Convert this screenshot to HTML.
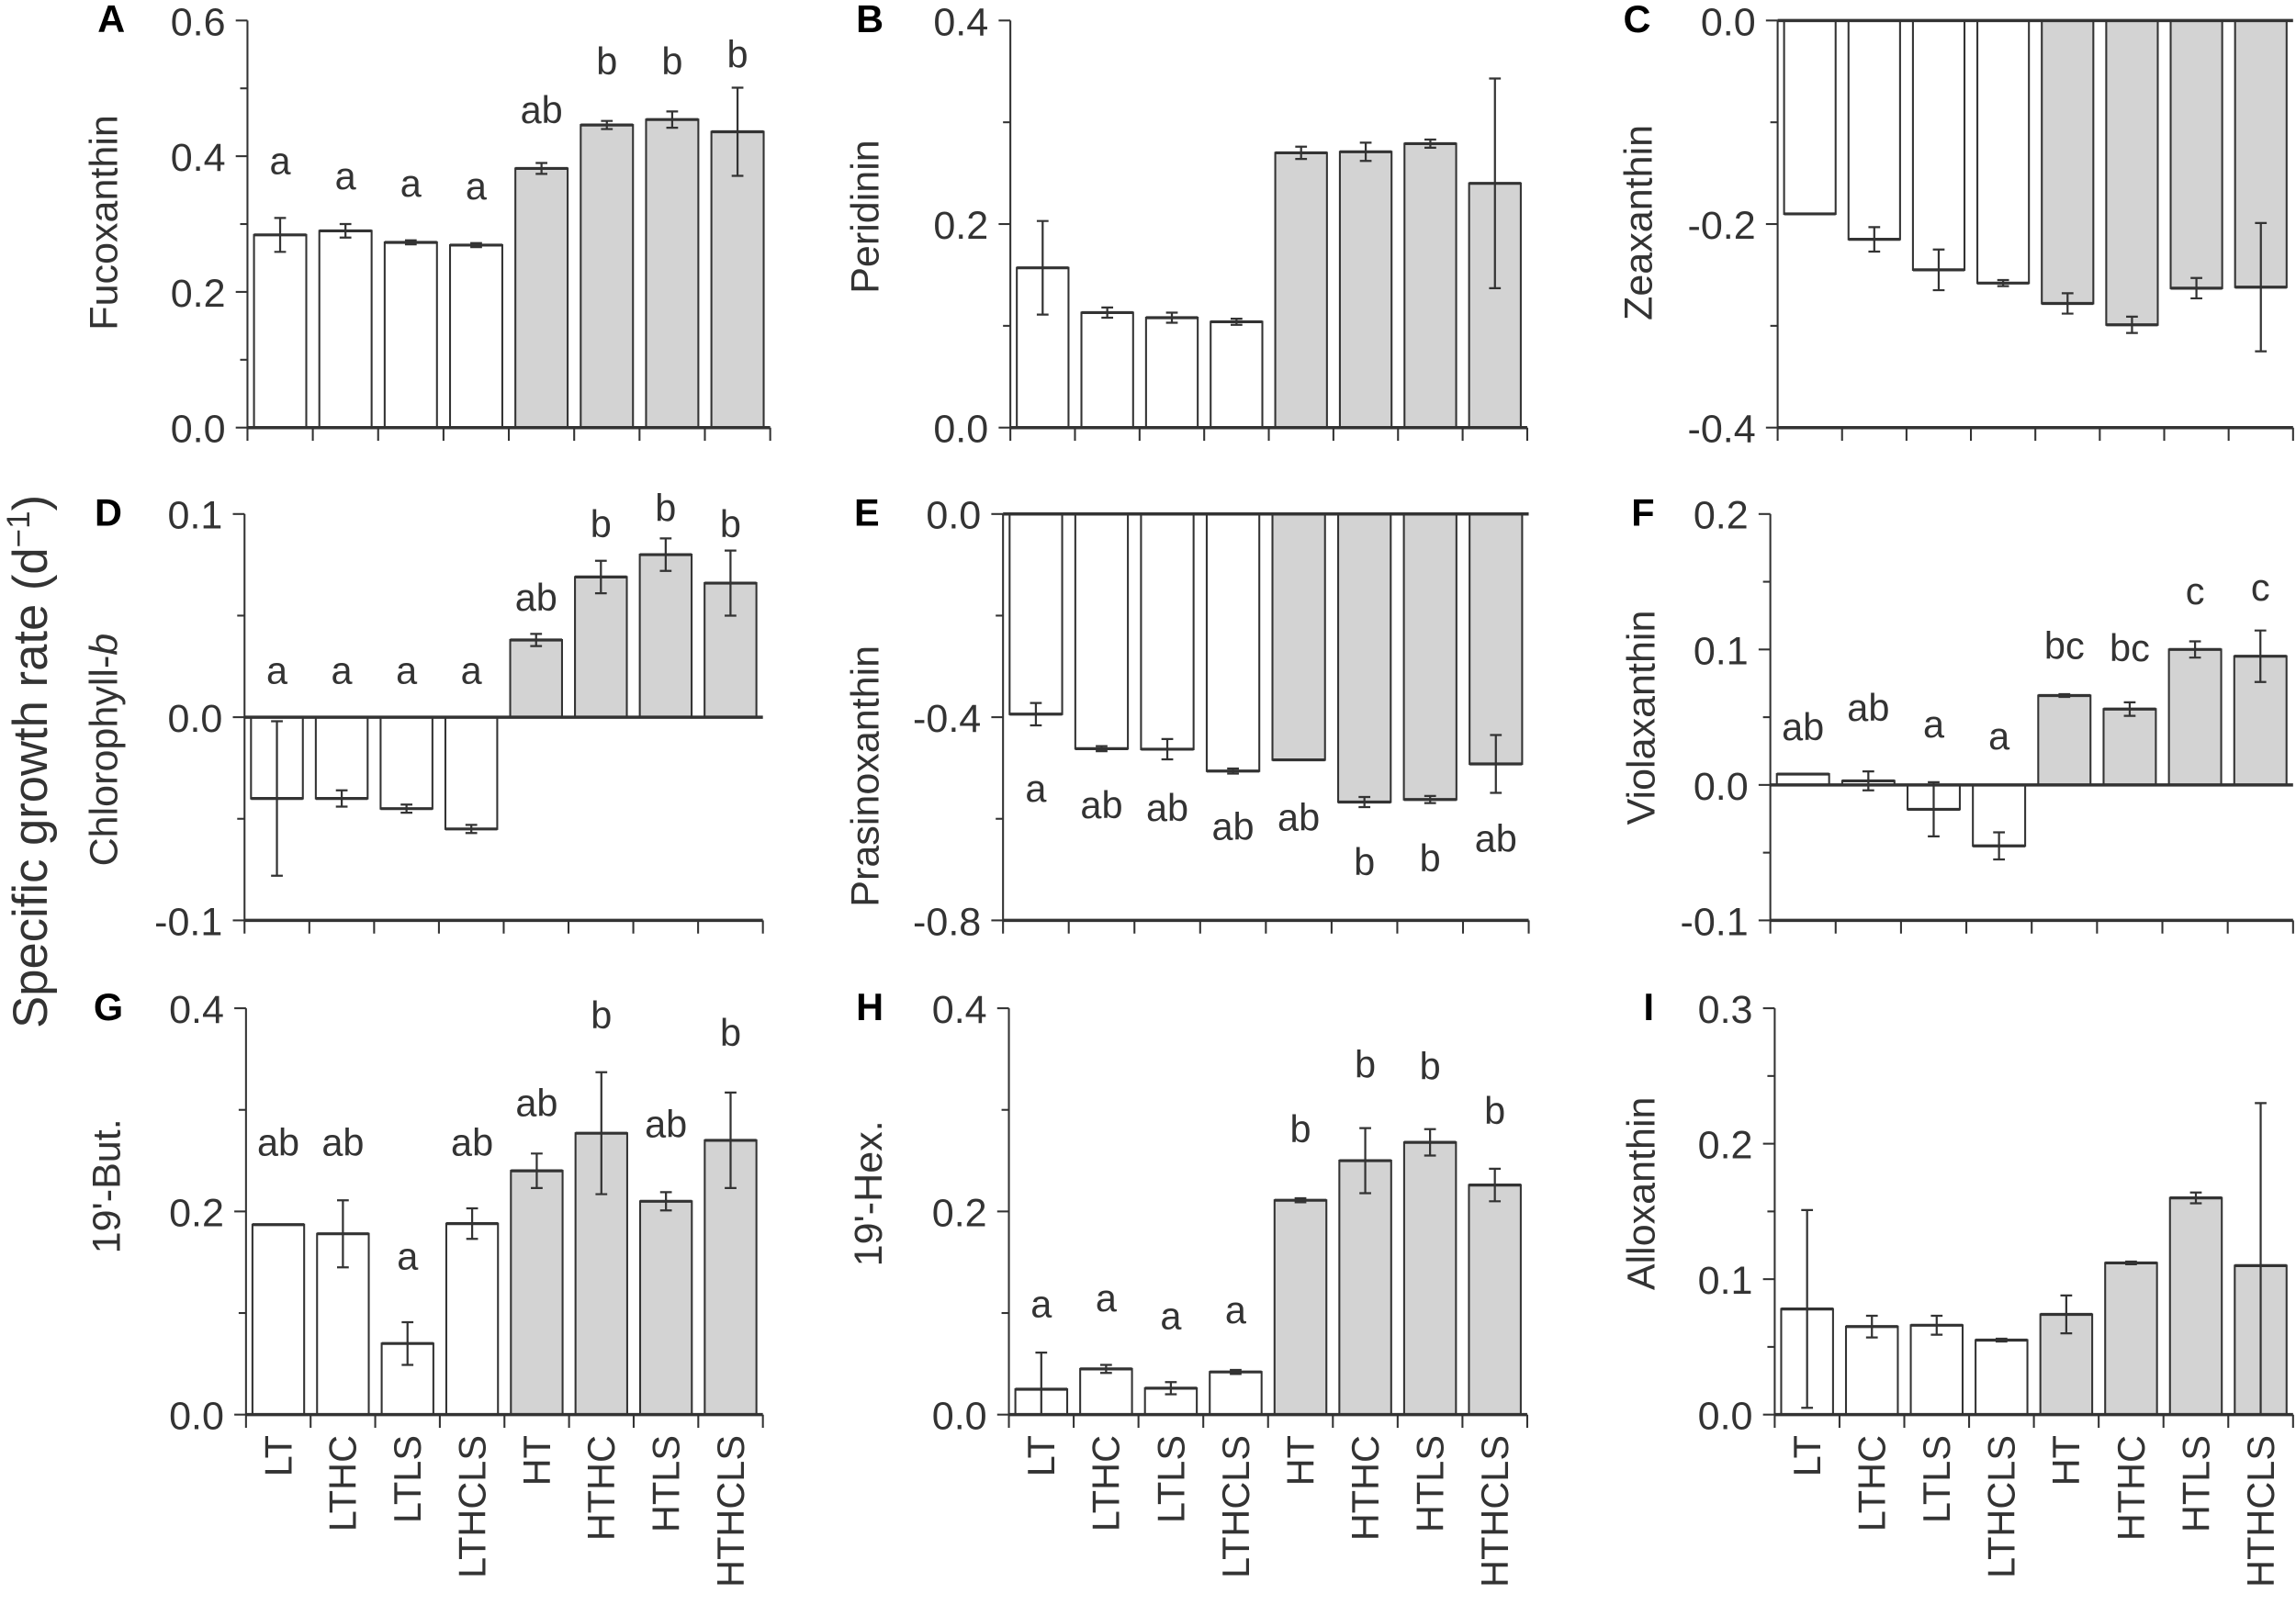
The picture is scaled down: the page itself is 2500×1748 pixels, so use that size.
<!DOCTYPE html>
<html><head><meta charset="utf-8"><style>
html,body{margin:0;padding:0;background:#fff;}
svg{display:block;}
text{font-family:"Liberation Sans",Arial,sans-serif;fill:#333;}
</style></head><body>
<svg id="chart" width="2500" height="1748" viewBox="0 0 1568 1096" preserveAspectRatio="none" xmlns="http://www.w3.org/2000/svg">
<rect x="0" y="0" width="1568" height="1096" fill="#fff"/>
<text transform="translate(32,520) rotate(-90)" text-anchor="middle" font-size="33">Specific growth rate (d<tspan font-size="22" dy="-12">−1</tspan><tspan dy="12">)</tspan></text>
</svg>
<script>
const categories = ["LT","LTHC","LTLS","LTHCLS","HT","HTHC","HTLS","HTHCLS"];
const shaded = [0,0,0,0,1,1,1,1];

const valsA = [0.284,0.290,0.273,0.269,0.382,0.446,0.454,0.436];
const errA  = [0.025,0.010,0.003,0.003,0.008,0.006,0.012,0.065];
const letA  = ["a","a","a","a","ab","b","b","b"];
const letYA = [0.393,0.371,0.360,0.356,0.468,0.540,0.540,0.550];

const valsB = [0.157,0.113,0.108,0.104,0.270,0.271,0.279,0.240];
const errB  = [0.046,0.005,0.005,0.003,0.006,0.009,0.004,0.103];

const valsC = [-0.190,-0.215,-0.245,-0.258,-0.278,-0.299,-0.263,-0.262];
const errC  = [0,0.012,0.020,0.003,0.010,0.008,0.010,0.063];

const valsD = [-0.040,-0.040,-0.045,-0.055,0.038,0.069,0.080,0.066];
const errD  = [0.038,0.004,0.002,0.002,0.003,0.008,0.008,0.016];
const letD  = ["a","a","a","a","ab","b","b","b"];
const letYD = [0.023,0.023,0.023,0.023,0.059,0.095,0.103,0.095];

const valsE = [-0.394,-0.462,-0.463,-0.506,-0.484,-0.567,-0.562,-0.492];
const errE  = [0.022,0.005,0.020,0.005,0,0.010,0.007,0.057];
const letE  = ["a","ab","ab","ab","ab","b","b","ab"];
const letYE = [-0.54,-0.573,-0.578,-0.615,-0.597,-0.685,-0.678,-0.639];

const valsF = [0.008,0.003,-0.018,-0.045,0.066,0.056,0.100,0.095];
const errF  = [0,0.007,0.020,0.010,0.001,0.005,0.006,0.019];
const letF  = ["ab","ab","a","a","bc","bc","c","c"];
const letYF = [0.043,0.057,0.045,0.036,0.103,0.101,0.143,0.146];

const valsG = [0.187,0.178,0.070,0.188,0.240,0.277,0.210,0.270];
const errG  = [0,0.033,0.021,0.015,0.017,0.060,0.009,0.047];
const letG  = ["ab","ab","a","ab","ab","b","ab","b"];
const letYG = [0.268,0.268,0.156,0.268,0.307,0.393,0.286,0.376];

const valsH = [0.025,0.045,0.026,0.042,0.211,0.250,0.268,0.226];
const errH  = [0.036,0.004,0.006,0.002,0.002,0.032,0.013,0.016];
const letH  = ["a","a","a","a","b","b","b","b"];
const letYH = [0.109,0.115,0.097,0.103,0.281,0.345,0.343,0.299];

const valsI = [0.078,0.065,0.066,0.055,0.074,0.112,0.160,0.110];
const errI  = [0.073,0.008,0.007,0.001,0.014,0.001,0.004,0.120];

const NS = "http://www.w3.org/2000/svg";
const svg = document.getElementById("chart");
function mk(tag, attrs){ const e=document.createElementNS(NS,tag); for(const k in attrs) e.setAttribute(k,attrs[k]); svg.appendChild(e); return e; }

const panels = [
 {id:"a",letter:"A",title:"Fucoxanthin",vals:valsA,err:errA,let:letA,letY:letYA,ymin:0,ymax:0.6,major:0.2,minor:0.1,x0:169,x1:526,top:14,bot:292,lx:76,tx:80,ty:152,bottom:false},
 {id:"b",letter:"B",title:"Peridinin",vals:valsB,err:errB,ymin:0,ymax:0.4,major:0.2,minor:0.1,x0:690,x1:1043,top:14,bot:292,lx:594,tx:600,ty:148,bottom:false},
 {id:"c",letter:"C",title:"Zeaxanthin",vals:valsC,err:errC,ymin:-0.4,ymax:0,major:0.2,minor:0.1,x0:1214,x1:1566,top:14,bot:292,lx:1118,tx:1128,ty:152,bottom:false},
 {id:"d",letter:"D",title:"Chlorophyll-",italic:"b",vals:valsD,err:errD,let:letD,letY:letYD,ymin:-0.1,ymax:0.1,major:0.1,minor:0.05,x0:167,x1:521,top:351,bot:628.5,lx:74,tx:80,ty:512,bottom:false},
 {id:"e",letter:"E",title:"Prasinoxanthin",vals:valsE,err:errE,let:letE,letY:letYE,ymin:-0.8,ymax:0,major:0.4,minor:0.2,x0:685,x1:1044,top:351,bot:628.5,lx:592,tx:600,ty:530,bottom:false},
 {id:"f",letter:"F",title:"Violaxanthin",vals:valsF,err:errF,let:letF,letY:letYF,ymin:-0.1,ymax:0.2,major:0.1,minor:0.05,x0:1209,x1:1566,top:351,bot:628.5,lx:1122,tx:1130,ty:490,bottom:false},
 {id:"g",letter:"G",title:"19'-But.",vals:valsG,err:errG,let:letG,letY:letYG,ymin:0,ymax:0.4,major:0.2,minor:0.1,x0:168,x1:521,top:688.5,bot:966,lx:74,tx:82,ty:810,bottom:true},
 {id:"h",letter:"H",title:"19'-Hex.",vals:valsH,err:errH,let:letH,letY:letYH,ymin:0,ymax:0.4,major:0.2,minor:0.1,x0:689,x1:1043,top:688.5,bot:966,lx:594,tx:602,ty:815,bottom:true},
 {id:"i",letter:"I",title:"Alloxanthin",vals:valsI,err:errI,ymin:0,ymax:0.3,major:0.1,minor:0.05,x0:1212,x1:1566,top:688.5,bot:966,lx:1126,tx:1130,ty:815,bottom:true}
];

function fmt(v){ if(Math.abs(v)<1e-9) return "0.0"; return v.toFixed(1); }

panels.forEach(p=>{
  const n = categories.length;
  const slot = (p.x1-p.x0)/n;
  const X = i => p.x0 + slot*(i+0.5);
  const Y = v => p.bot - (v-p.ymin)/(p.ymax-p.ymin)*(p.bot-p.top);
  const bw = slot*0.8;

  const pl = mk("text",{x:p.lx,y:p.top+8,"text-anchor":"middle","font-size":"26","font-weight":"bold",fill:"#000"});
  
  
  pl.style.fill="#000"; pl.textContent=p.letter;

  const yt = mk("text",{transform:`translate(${p.tx},${p.ty}) rotate(-90)`,"text-anchor":"middle","font-size":"27"});
  
  
  yt.textContent=p.title;
  if(p.italic){ const ts=document.createElementNS(NS,"tspan"); ts.setAttribute("font-style","italic"); ts.textContent=p.italic; yt.appendChild(ts); }

  p.vals.forEach((v,i)=>{
    const y0=Y(0), y1=Y(v);
    const r = mk("rect",{x:X(i)-bw/2,y:Math.min(y0,y1),width:bw,height:Math.max(0.5,Math.abs(y1-y0)),fill:shaded[i]?"#d3d3d3":"#fff",stroke:"#333","stroke-width":"1.3"});
    
    
    const e=p.err[i];
    if(e>0){
      const ya=Y(v+e), yb=Math.min(Y(v-e), Y(p.ymin));
      const eb = mk("path",{d:`M${X(i)},${ya}V${yb}M${X(i)-4},${ya}H${X(i)+4}M${X(i)-4},${yb}H${X(i)+4}`,stroke:"#333","stroke-width":"1.4",fill:"none"});
      
      
    }
    const cap = mk("line",{x1:X(i)-bw/2,x2:X(i)+bw/2,y1:y1,y2:y1,stroke:"#333","stroke-width":"2"});
    
    
    if(p.let){
      const lt = mk("text",{x:X(i),y:Y(p.letY[i])+9,"text-anchor":"middle","font-size":"26"});
      
      
      lt.textContent=p.let[i];
    }
  });

  const ya = mk("line",{x1:p.x0,x2:p.x0,y1:p.top,y2:p.bot,stroke:"#333","stroke-width":"1.3"});
  
  
  const nMin = Math.round((p.ymax-p.ymin)/p.minor);
  for(let k=0;k<=nMin;k++){
    const v = p.ymin + k*p.minor;
    const isMaj = Math.abs(v/p.major - Math.round(v/p.major))<1e-6;
    const tk = mk("line",{x1:p.x0-(isMaj?8:5),x2:p.x0,y1:Y(v),y2:Y(v),stroke:"#333","stroke-width":"1.3"});
    
    
    if(isMaj){
      const tl = mk("text",{x:p.x0-15,y:Y(v)+10,"text-anchor":"end","font-size":"27"});
      
      
      tl.textContent=fmt(v);
    }
  }
  if(p.ymin<0){
    const zl = mk("line",{x1:p.x0,x2:p.x1,y1:Y(0),y2:Y(0),stroke:"#333","stroke-width":"2.2"});
    
    
  }
  const xa = mk("line",{x1:p.x0,x2:p.x1,y1:p.bot,y2:p.bot,stroke:"#333","stroke-width":"2.2"});
  
  
  for(let k=0;k<=n;k++){
    const xt = mk("line",{x1:p.x0+k*slot,x2:p.x0+k*slot,y1:p.bot,y2:p.bot+9,stroke:"#333","stroke-width":"1.3"});
    
    
  }
  if(p.bottom){
    categories.forEach((c,i)=>{
      const cl = mk("text",{transform:`translate(${X(i)+9},${p.bot+14}) rotate(-90)`,"text-anchor":"end","font-size":"26"});
      
      
      cl.textContent=c;
    });
  }
});
</script>
</body></html>
